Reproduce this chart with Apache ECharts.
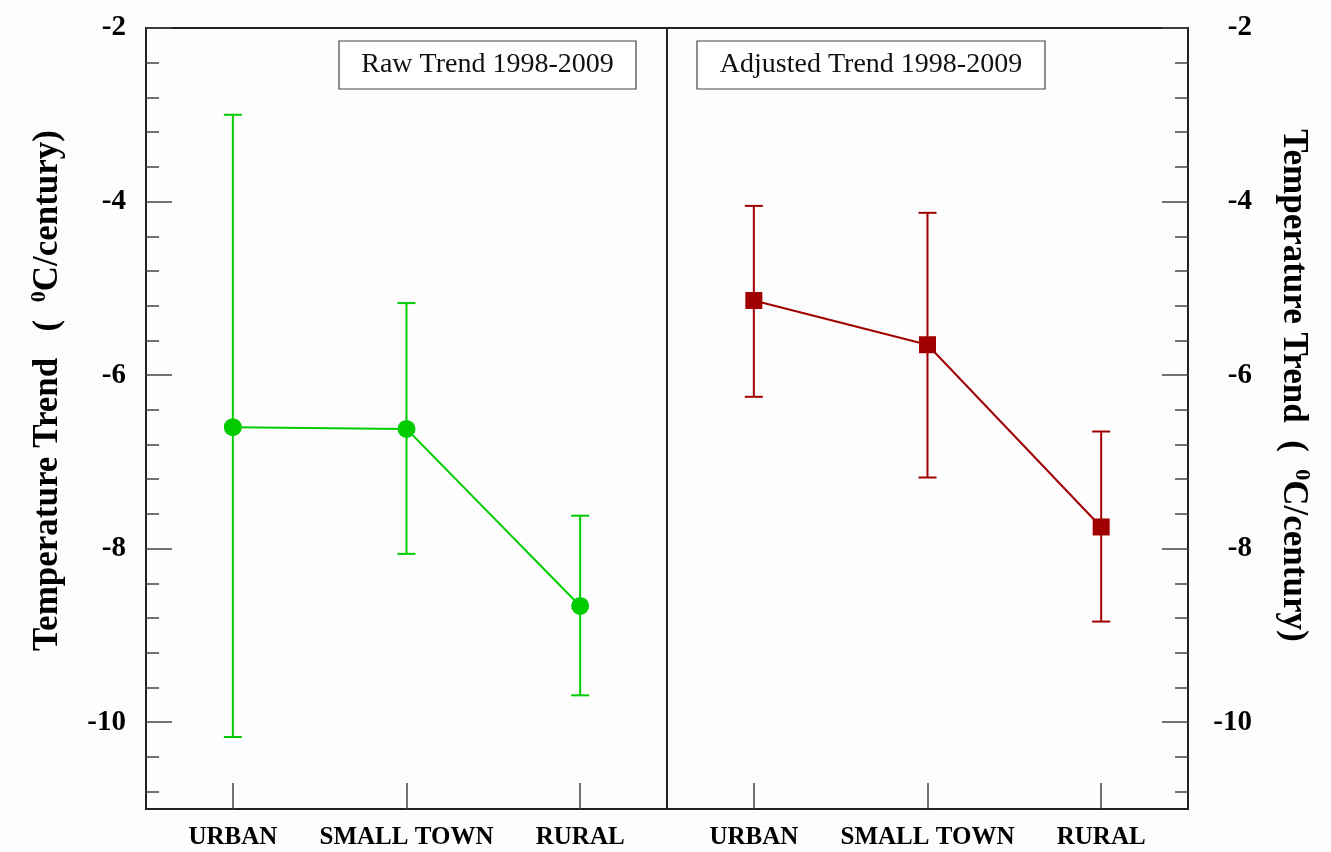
<!DOCTYPE html>
<html>
<head>
<meta charset="utf-8">
<script src="https://cdn.jsdelivr.net/npm/echarts@6/dist/echarts.min.js"></script>
<style>html,body{margin:0;padding:0;background:#fdfdfd;}#c{width:1331px;height:852px;}</style>
</head>
<body>
<div id="c"></div>
<script>
const categories = ['URBAN', 'SMALL TOWN', 'RURAL'];
const rawMean = [-6.60, -6.62, -8.66];
const rawHigh = [-3.00, -5.17, -7.62];
const rawLow = [-10.17, -8.06, -9.69];
const adjMean = [-5.14, -5.65, -7.75];
const adjHigh = [-4.05, -4.13, -6.65];
const adjLow = [-6.25, -7.18, -8.84];
const majorTicks = [-10, -8, -6, -4, -2];
const minorTicks = [-10.8, -10.4, -9.6, -9.2, -8.8, -8.4, -7.6, -7.2, -6.8, -6.4, -5.6, -5.2, -4.8, -4.4, -3.6, -3.2, -2.8, -2.4];
const panelTitles = ['Raw Trend 1998-2009', 'Adjusted Trend 1998-2009'];
const yTitle = 'Temperature Trend';

const serif = '"Liberation Serif", "DejaVu Serif", serif';
const GREEN = '#00cc00';
const RED = '#a00000';

function errData(low, high) {
  return categories.map((c, i) => [i, low[i], high[i]]);
}
function errRender(color) {
  return function (params, api) {
    const x = api.value(0);
    const lo = api.coord([x, api.value(1)]);
    const hi = api.coord([x, api.value(2)]);
    const cap = 9;
    const style = { stroke: color, lineWidth: 2 };
    return {
      type: 'group',
      children: [
        { type: 'line', shape: { x1: lo[0], y1: lo[1], x2: hi[0], y2: hi[1] }, style },
        { type: 'line', shape: { x1: lo[0] - cap, y1: lo[1], x2: lo[0] + cap, y2: lo[1] }, style },
        { type: 'line', shape: { x1: hi[0] - cap, y1: hi[1], x2: hi[0] + cap, y2: hi[1] }, style }
      ]
    };
  };
}

const labelStyle = { fontFamily: serif, fontWeight: 'bold', fontSize: 29, color: '#000' };
const nameRich = {
  sup: { fontFamily: serif, fontWeight: 'bold', fontSize: 22, color: '#000', padding: [0, 0, 18, 0] },
  t: { fontFamily: serif, fontWeight: 'bold', fontSize: 35, color: '#000' }
};

function yAxes(gridIndex, position, nameRotate, nameGap, labelMargin, title, namePadding) {
  return [
    {
      type: 'value', gridIndex, position, min: -11, max: -2,
      name: title,
      nameLocation: 'middle', nameGap, nameRotate,
      nameTextStyle: { rich: nameRich, padding: namePadding },
      axisLine: { show: true, lineStyle: { color: '#222', width: 2 } },
      axisTick: { show: true, inside: true, length: 26, customValues: majorTicks, lineStyle: { color: '#444', width: 1.5 } },
      axisLabel: { show: true, customValues: majorTicks, margin: labelMargin, align: 'right', ...labelStyle },
      splitLine: { show: false }
    },
    {
      type: 'value', gridIndex, position, min: -11, max: -2,
      axisLine: { show: false },
      axisTick: { show: true, inside: true, length: 13, customValues: minorTicks, lineStyle: { color: '#444', width: 1.5 } },
      axisLabel: { show: false },
      splitLine: { show: false }
    }
  ];
}

function xAxis(gridIndex) {
  return {
    type: 'category', gridIndex, data: categories, boundaryGap: true,
    axisLine: { show: true, lineStyle: { color: '#222', width: 2 } },
    axisTick: { show: true, inside: true, alignWithLabel: true, length: 26, lineStyle: { color: '#444', width: 1.5 } },
    axisLabel: { interval: 0, hideOverlap: false, margin: 16, fontFamily: serif, fontWeight: 'bold', fontSize: 25, color: '#000' },
    splitLine: { show: false }
  };
}

function box(x, y, w, h, text) {
  return {
    type: 'group', children: [
      { type: 'rect', shape: { x, y, width: w, height: h }, style: { fill: '#fff', stroke: '#444', lineWidth: 1.2 }, z: 10 },
      { type: 'text', x: x + w / 2, y: y + h / 2, style: { text, fontFamily: serif, fontSize: 28, fill: '#111', align: 'center', verticalAlign: 'middle' }, z: 11 }
    ]
  };
}

const leftTitle = '{t|' + yTitle + '   (  }{sup|0}{t|C/century)}';
const rightTitle = '{t|' + yTitle + '  (  }{sup|0}{t|C/century)}';

const chart = echarts.init(document.getElementById('c'));
chart.setOption({
  backgroundColor: '#fdfdfd',
  animation: false,
  grid: [
    { left: 146, top: 28, width: 521, height: 781, show: true, borderColor: '#222', borderWidth: 2, backgroundColor: 'transparent' },
    { left: 667, top: 28, width: 521, height: 781, show: true, borderColor: '#222', borderWidth: 2, backgroundColor: 'transparent' }
  ],
  xAxis: [xAxis(0), xAxis(1)],
  yAxis: [
    ...yAxes(0, 'left', 90, 78, 20, leftTitle, [0, 0, 0, 56]),
    ...yAxes(1, 'right', -90, 85, 64, rightTitle, [0, 66, 0, 0])
  ],
  graphic: [
    box(339, 41, 297, 48, panelTitles[0]),
    box(697, 41, 348, 48, panelTitles[1])
  ],
  series: [
    { type: 'custom', xAxisIndex: 0, yAxisIndex: 0, renderItem: errRender(GREEN), data: errData(rawLow, rawHigh), z: 2 },
    { type: 'line', xAxisIndex: 0, yAxisIndex: 0, data: rawMean, symbol: 'circle', symbolSize: 18,
      lineStyle: { color: GREEN, width: 2 }, itemStyle: { color: GREEN }, z: 3 },
    { type: 'custom', xAxisIndex: 1, yAxisIndex: 2, renderItem: errRender(RED), data: errData(adjLow, adjHigh), z: 2 },
    { type: 'line', xAxisIndex: 1, yAxisIndex: 2, data: adjMean, symbol: 'rect', symbolSize: 17,
      lineStyle: { color: RED, width: 2 }, itemStyle: { color: RED }, z: 3 }
  ]
});
</script>
</body>
</html>
